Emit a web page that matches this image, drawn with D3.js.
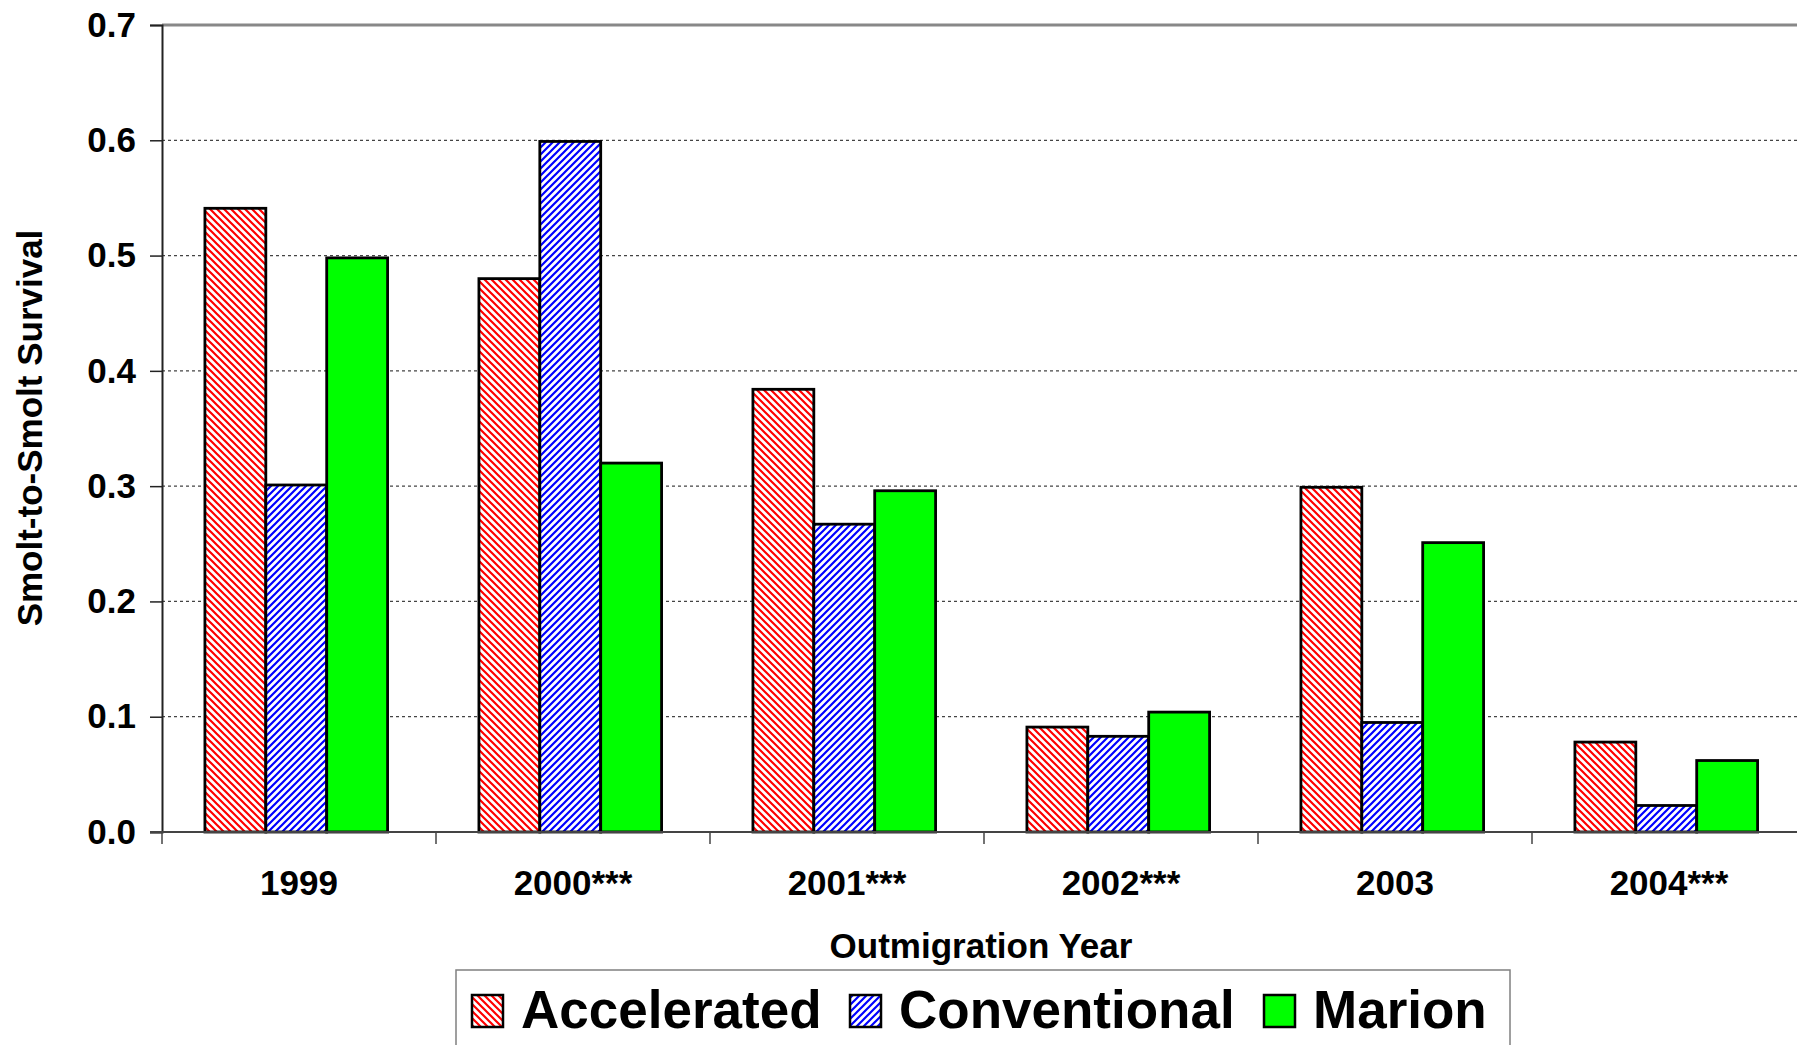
<!DOCTYPE html>
<html>
<head>
<meta charset="utf-8">
<script src="https://d3js.org/d3.v7.min.js"></script>
<style>
  body { margin: 0; background: #fff; }
  svg { display: block; font-family: "Liberation Sans", Arial, sans-serif; font-weight: bold; }
</style>
</head>
<body>
<div id="chart"></div>
<script>
var years = ["1999", "2000***", "2001***", "2002***", "2003", "2004***"];
var seriesNames = ["Accelerated", "Conventional", "Marion"];
var accelerated = [0.541, 0.480, 0.384, 0.091, 0.299, 0.078];
var conventional = [0.301, 0.599, 0.267, 0.083, 0.095, 0.023];
var marion = [0.498, 0.320, 0.296, 0.104, 0.251, 0.062];
var yTicks = [0, 0.1, 0.2, 0.3, 0.4, 0.5, 0.6, 0.7];

var width = 1797, height = 1045;
var plotLeft = 162, plotTop = 25, plotBottom = 832;
var groupWidth = 274;

var svg = d3.select("#chart").append("svg")
.attr("width", width)
.attr("height", height);

var defs = svg.append("defs");

// red hatch, lines going down to the right
var pRed = defs.append("pattern")
.attr("id", "hatch_red")
.attr("patternUnits", "userSpaceOnUse")
.attr("width", 7).attr("height", 7);
pRed.append("rect").attr("width", 7).attr("height", 7).attr("fill", "#fff");
pRed.append("path")
.attr("d", "M0,0 L7,7 M-1,6 L1,8 M6,-1 L8,1")
.attr("stroke", "#ff0000").attr("stroke-width", 2.2);

// blue hatch, lines going up to the right
var pBlue = defs.append("pattern")
.attr("id", "hatch_blue")
.attr("patternUnits", "userSpaceOnUse")
.attr("width", 7).attr("height", 7);
pBlue.append("rect").attr("width", 7).attr("height", 7).attr("fill", "#fff");
pBlue.append("path")
.attr("d", "M0,7 L7,0 M-1,1 L1,-1 M6,8 L8,6")
.attr("stroke", "#0000ff").attr("stroke-width", 2.2);

var fills = ["url(#hatch_red)", "url(#hatch_blue)", "#00ff00"];

var x = d3.scaleBand()
.domain(years)
.range([plotLeft, plotLeft + groupWidth * years.length])
.paddingInner(0).paddingOuter(0);

var xs = d3.scaleBand()
.domain(seriesNames)
.range([0, x.bandwidth()])
.paddingInner(0).paddingOuter(0.75)
.align(0.47);

var y = d3.scaleLinear()
.domain([0, 0.7])
.range([plotBottom, plotTop]);

// gridlines
svg.append("g")
.selectAll("line")
.data(yTicks.filter(function(d) { return d > 0 && d < 0.7; }))
.enter().append("line")
.attr("x1", plotLeft).attr("x2", width)
.attr("y1", function(d) { return y(d); })
.attr("y2", function(d) { return y(d); })
.attr("stroke", "#444")
.attr("stroke-width", 1.3)
.attr("stroke-dasharray", "3,3");

// top border
svg.append("line")
.attr("x1", plotLeft).attr("x2", width)
.attr("y1", y(0.7)).attr("y2", y(0.7))
.attr("stroke", "#888").attr("stroke-width", 3);

// bars
var data = years.map(function(yr, i) {
  return { year: yr, values: [accelerated[i], conventional[i], marion[i]] };
});

var groups = svg.append("g")
.selectAll("g")
.data(data)
.enter().append("g")
.attr("transform", function(d) { return "translate(" + x(d.year) + ",0)"; });

groups.selectAll("rect")
.data(function(d) { return d.values.map(function(v, j) { return { name: seriesNames[j], value: v, j: j }; }); })
.enter().append("rect")
.attr("x", function(d) { return xs(d.name); })
.attr("width", xs.bandwidth())
.attr("y", function(d) { return y(d.value); })
.attr("height", function(d) { return plotBottom - y(d.value); })
.attr("fill", function(d) { return fills[d.j]; })
.attr("stroke", "#000")
.attr("stroke-width", 2.8);

// y axis
var yAxis = d3.axisLeft(y)
.tickValues(yTicks)
.tickSize(12)
.tickPadding(14)
.tickFormat(d3.format(".1f"));

var yg = svg.append("g")
.attr("transform", "translate(" + plotLeft + ",0)")
.call(yAxis);
yg.select(".domain").attr("stroke", "#222").attr("stroke-width", 2);
yg.selectAll(".tick line").attr("stroke", "#222").attr("stroke-width", 1.5);
yg.selectAll(".tick text")
.attr("font-size", 35)
.attr("font-weight", "bold")
.attr("font-family", "Liberation Sans, Arial, sans-serif")
.attr("fill", "#000");

// x axis line and ticks
svg.append("line")
.attr("x1", plotLeft - 12).attr("x2", width)
.attr("y1", plotBottom).attr("y2", plotBottom)
.attr("stroke", "#444").attr("stroke-width", 2);

svg.append("g")
.selectAll("line")
.data(d3.range(years.length + 1))
.enter().append("line")
.attr("x1", function(i) { return plotLeft + i * x.step(); })
.attr("x2", function(i) { return plotLeft + i * x.step(); })
.attr("y1", plotBottom).attr("y2", plotBottom + 12)
.attr("stroke", "#444").attr("stroke-width", 1.5);

svg.append("g")
.selectAll("text")
.data(years)
.enter().append("text")
.attr("x", function(d) { return x(d) + x.bandwidth() / 2; })
.attr("y", 895)
.attr("text-anchor", "middle")
.attr("font-size", 35)
.text(function(d) { return d; });

// axis titles
svg.append("text")
.attr("x", 981).attr("y", 958)
.attr("text-anchor", "middle")
.attr("font-size", 35)
.text("Outmigration Year");

svg.append("text")
.attr("transform", "translate(42,428) rotate(-90)")
.attr("text-anchor", "middle")
.attr("font-size", 35)
.text("Smolt-to-Smolt Survival");

// legend
var legend = svg.append("g");
legend.append("rect")
.attr("x", 456).attr("y", 970)
.attr("width", 1054).attr("height", 100)
.attr("fill", "#fff")
.attr("stroke", "#808080").attr("stroke-width", 1.5);

var legendX = [472, 850, 1264];
legendX.forEach(function(lx, j) {
  legend.append("rect")
  .attr("x", lx).attr("y", 995)
  .attr("width", 31).attr("height", 32)
  .attr("fill", fills[j])
  .attr("stroke", "#000").attr("stroke-width", 2.5);
  legend.append("text")
  .attr("x", lx + 49).attr("y", 1028)
  .attr("font-size", 53)
  .text(seriesNames[j]);
});
</script>
</body>
</html>
